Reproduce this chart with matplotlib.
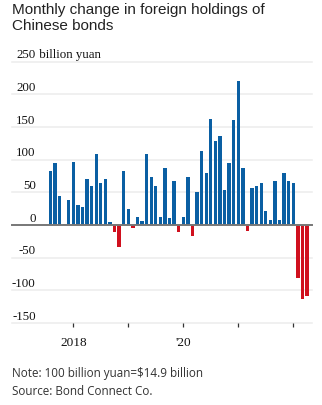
import matplotlib
matplotlib.use("Agg")
import matplotlib.pyplot as plt
import numpy as np

# Monthly values, Aug 2017 - Apr 2022 (billion yuan)
months = [f"{y}-{m:02d}" for y in range(2017, 2023) for m in range(1, 13)]
months = months[months.index("2017-08"):months.index("2022-04") + 1]
values = [82, 95, 44, 1, 39, 97, 30, 27, 70, 59, 109, 65, 71, 4,
          -10, -34, 83, 24, -4, 12, 6, 108, 74, 60, 12, 88, 10, 68,
          -11, 13, 74, -17, 50, 114, 80, 163, 129, 137, 53, 95, 161, 220, 88,
          -9, 57, 60, 65, 22, 7, 68, 7, 80, 68, 65, -81, -113, -108]
yticks = [-150, -100, -50, 0, 50, 100, 150, 200, 250]
ytick_labels = ["-150", "-100", "-50", "0", "50", "100", "150", "200", "250"]
xtick_months = ["2018-01", "2019-01", "2020-01", "2021-01", "2022-01"]
xtick_labels = ["2018", "", "'20", "", ""]

W, H = 322, 406
fig = plt.figure(figsize=(W / 100, H / 100), dpi=100)
ax = fig.add_axes([12 / W, 1 - 324 / H, 300 / W, (324 - 62.7) / H])

x = np.arange(len(values))
vals = np.array(values)
colors = np.where(vals >= 0, "#0a5fa3", "#d0101e")
ax.bar(x, vals, width=0.72, color=colors, zorder=2)

ax.set_xlim(-8.38, 57.08)
ax.set_ylim(-150, 250)

for yv in yticks:
    if yv == 0:
        ax.axhline(0, color="#777777", lw=1.4, zorder=3, clip_on=False)
    else:
        ax.axhline(yv, color="#eeeeee", lw=1.2, zorder=1, clip_on=False)

serif = "Liberation Serif"
lab_x = (35.7 - 12) / 300
for yv, lab in zip(yticks, ytick_labels):
    ax.annotate(lab, xy=(lab_x, yv), xycoords=("axes fraction", "data"),
                xytext=(0, 3.2), textcoords="offset points",
                ha="right", va="baseline", fontsize=9.3, family=serif, color="#111111")
ax.annotate(" billion yuan", xy=(lab_x, 250), xycoords=("axes fraction", "data"),
            xytext=(0, 3.2), textcoords="offset points",
            ha="left", va="baseline", fontsize=9.3, family=serif, color="#111111")

xt = [months.index(m) for m in xtick_months]
ax.set_xticks(xt)
ax.set_xticklabels(xtick_labels, family=serif, fontsize=9.5, color="#111111")
ax.tick_params(axis="x", length=3, width=0.9, color="#333333", pad=6)
ax.set_yticks([])
for s in ax.spines.values():
    s.set_visible(False)

fig.text(12 / W, 1 - 3 / H, "Monthly change in foreign holdings of\nChinese bonds",
         ha="left", va="top", fontsize=11, family="Liberation Sans",
         color="#222222", linespacing=1.2)
fig.text(12 / W, 1 - 374 / H, "Note: 100 billion yuan=$14.9 billion",
         ha="left", va="center", fontsize=8.4, family="Open Sans", color="#333333")
fig.text(12 / W, 1 - 391.5 / H, "Source: Bond Connect Co.",
         ha="left", va="center", fontsize=8.4, family="Open Sans", color="#333333")

fig.savefig("out.png", dpi=100)
